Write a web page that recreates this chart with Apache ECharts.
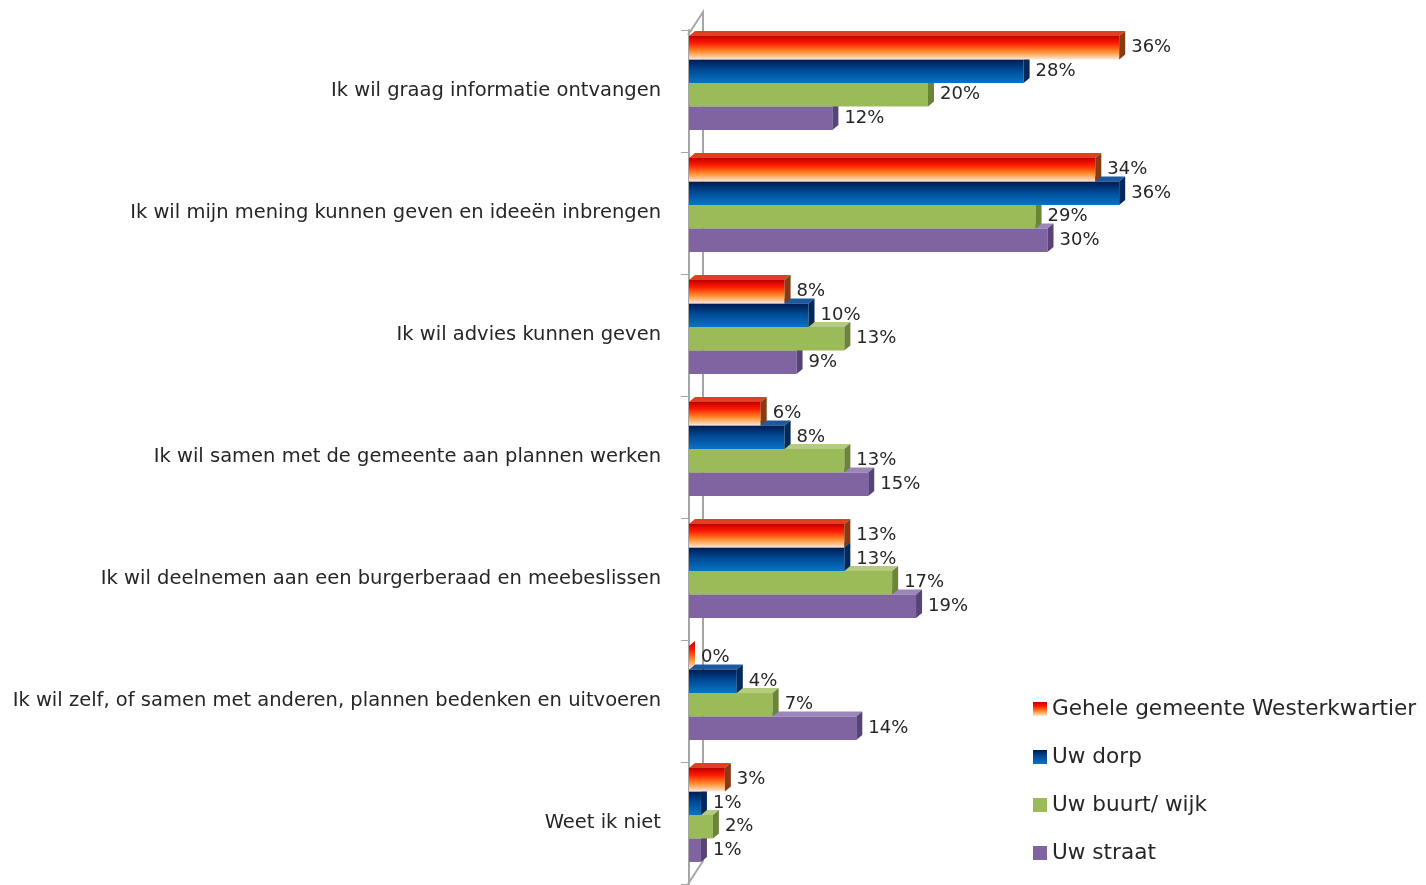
<!DOCTYPE html>
<html>
<head>
<meta charset="utf-8">
<script src="https://cdn.jsdelivr.net/npm/echarts@6/dist/echarts.min.js"></script>
<style>
html,body{margin:0;padding:0;background:#fff;}
#chart{width:1426px;height:885px;}
</style>
</head>
<body>
<div id="chart"></div>
<script>
var categories = [
  'Ik wil graag informatie ontvangen',
  'Ik wil mijn mening kunnen geven en ideeën inbrengen',
  'Ik wil advies kunnen geven',
  'Ik wil samen met de gemeente aan plannen werken',
  'Ik wil deelnemen aan een burgerberaad en meebeslissen',
  'Ik wil zelf, of samen met anderen, plannen bedenken en uitvoeren',
  'Weet ik niet'
];
var seriesNames = ['Gehele gemeente Westerkwartier', 'Uw dorp', 'Uw buurt/ wijk', 'Uw straat'];
var gemeente = [36, 34, 8, 6, 13, 0, 3];
var dorp = [28, 36, 10, 8, 13, 4, 1];
var buurt = [20, 29, 13, 13, 17, 7, 2];
var straat = [12, 30, 9, 15, 19, 14, 1];

var FONT = '"DejaVu Sans", "Open Sans", sans-serif';
var chart = echarts.init(document.getElementById('chart'));

function grad(stops) {
  return new echarts.graphic.LinearGradient(0, 0, 0, 1, stops);
}
var frontColors = [
  grad([{offset:0,color:'#c00000'},{offset:0.3,color:'#ff1a00'},{offset:0.65,color:'#ff8a2a'},{offset:1,color:'#ffe8d6'}]),
  grad([{offset:0,color:'#001a52'},{offset:0.45,color:'#004a94'},{offset:1,color:'#0a72c6'}]),
  '#9bbb59',
  '#8064a2'
];
var topColors = ['#e04020', '#1c5aa0', '#b3cc80', '#9a86b8'];
var sideColors = ['#8a3a10', '#002a5c', '#6a8536', '#58427a'];
var values = [gemeente, dorp, buurt, straat];

var NS = 4, GROUP = 0.77, SHIFT = -8, DX = 6, DY = 5;

function makeRender(si) {
  return function (params, api) {
    var cat = api.value(0);
    var val = api.value(1);
    var start = api.coord([0, cat]);
    var end = api.coord([val, cat]);
    var band = api.size([0, 1])[1];
    var bw = band * GROUP / NS;
    var y0 = start[1] - band * GROUP / 2 + si * bw + SHIFT;
    var y1 = y0 + bw;
    var x0 = start[0], x1 = end[0];
    var children = [];
    if (x1 - x0 > 0.5) {
      children.push({
        type: 'polygon',
        shape: { points: [[x0, y0], [x0 + DX, y0 - DY], [x1 + DX, y0 - DY], [x1, y0]] },
        style: { fill: topColors[si] }
      });
      children.push({
        type: 'rect',
        shape: { x: x0, y: y0, width: x1 - x0, height: bw },
        style: { fill: frontColors[si] }
      });
    }
    children.push({
      type: 'polygon',
      shape: { points: [[x1, y0], [x1 + DX, y0 - DY], [x1 + DX, y1 - DY], [x1, y1]] },
      style: { fill: x1 - x0 > 0.5 ? sideColors[si] : frontColors[si] }
    });
    children.push({
      type: 'text',
      style: {
        x: x1 + DX + 6, y: (y0 + y1) / 2,
        text: val + '%',
        fill: '#262626',
        font: '18px ' + FONT,
        verticalAlign: 'middle', align: 'left'
      }
    });
    return { type: 'group', children: children };
  };
}

var series = values.map(function (vals, i) {
  return {
    name: seriesNames[i],
    type: 'custom',
    z: 10 - i,
    renderItem: makeRender(i),
    encode: { x: 1, y: 0 },
    itemStyle: { color: frontColors[i] },
    data: vals.map(function (v, k) { return [k, v]; })
  };
});

chart.setOption({
  animation: false,
  backgroundColor: '#fff',
  grid: { left: 689, top: 30, bottom: 1, width: 478 },
  legend: {
    orient: 'vertical',
    left: 1028,
    top: 693,
    itemWidth: 14,
    itemHeight: 14,
    itemGap: 26,
    icon: 'rect',
    textStyle: { fontFamily: FONT, fontSize: 21.6, color: '#262626' },
    data: seriesNames
  },
  xAxis: { type: 'value', min: 0, max: 40, show: false },
  yAxis: {
    type: 'category',
    data: categories,
    inverse: true,
    axisLine: { show: true, lineStyle: { color: '#a6a6a6', width: 2 } },
    axisTick: { show: true, length: 8, lineStyle: { color: '#a6a6a6', width: 1 } },
    axisLabel: { fontFamily: FONT, fontSize: 19.5, color: '#262626', margin: 28 }
  },
  series: series
});

// 3D wall (back edge of the axis plane)
var wallTop = 30, wallBottom = 884, wx = 688, wdx = 15, wdy = 23;
chart.setOption({
  graphic: [{
    type: 'polyline',
    silent: true,
    z: 0,
    shape: { points: [[wx, wallTop + 5], [wx + wdx, wallTop + 5 - wdy], [wx + wdx, wallBottom - wdy], [wx, wallBottom]] },
    style: { stroke: '#a6a6a6', lineWidth: 2, fill: 'none' }
  }]
});
</script>
</body>
</html>
